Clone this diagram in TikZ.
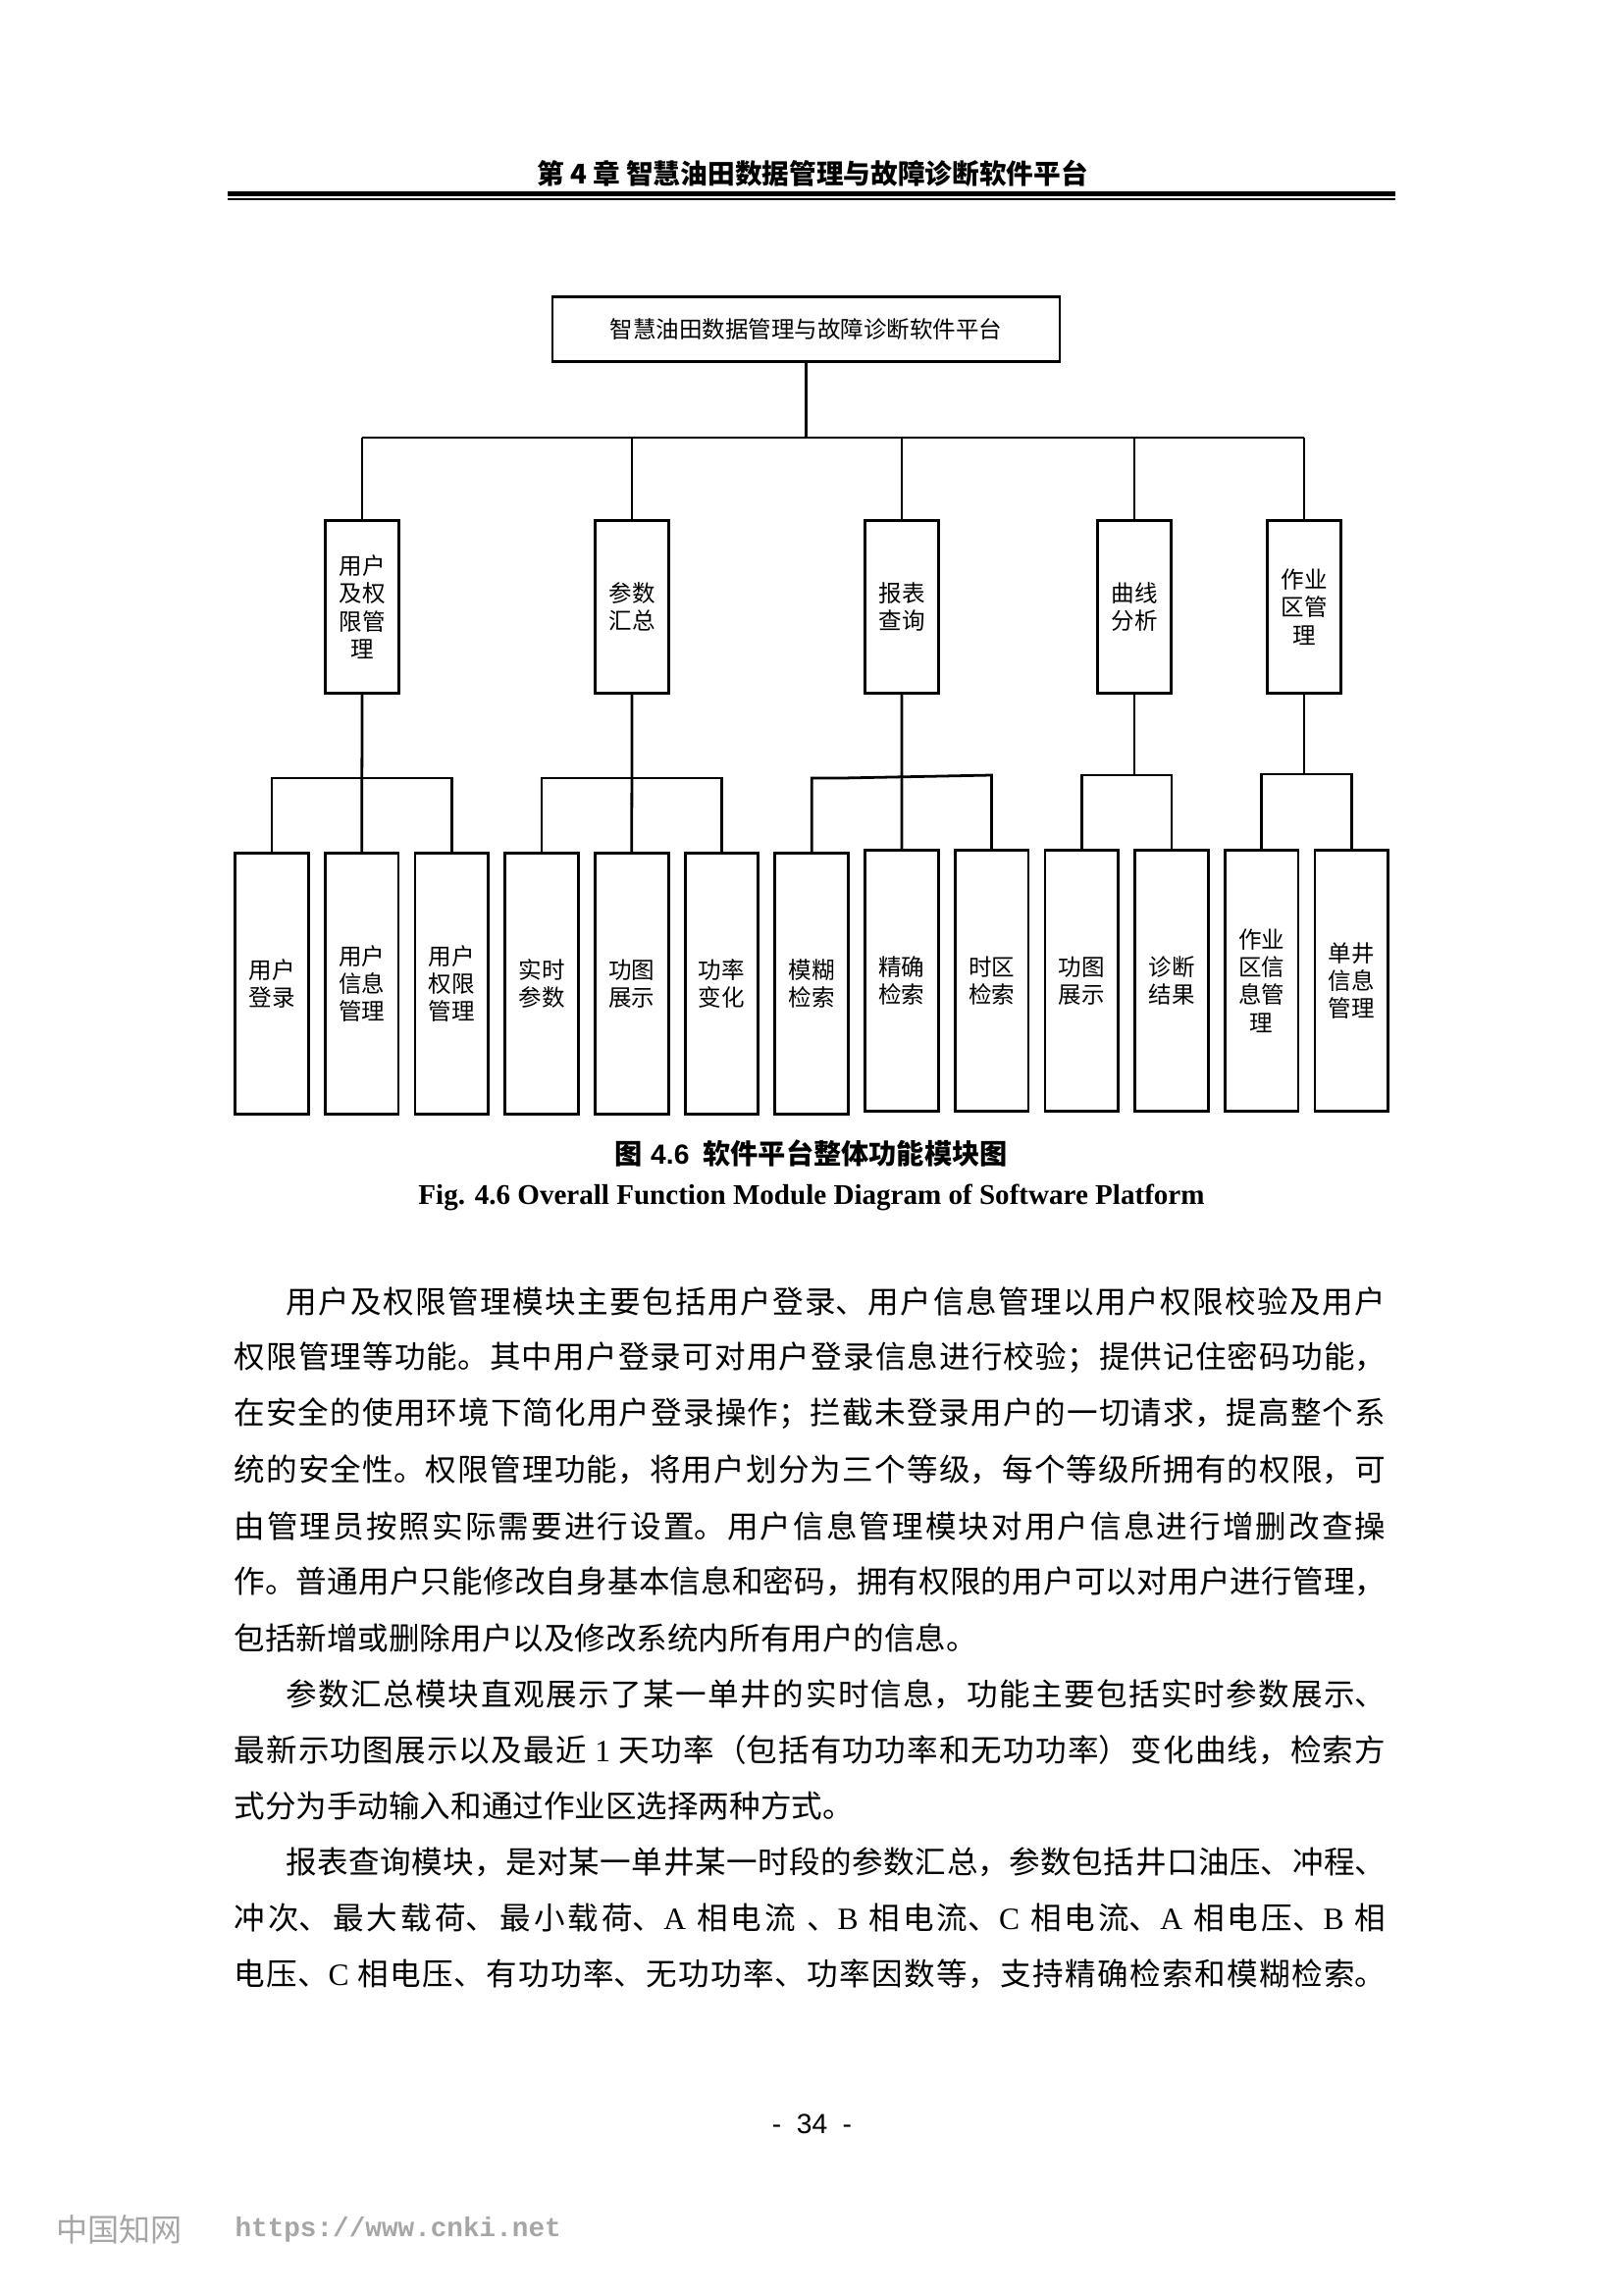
\documentclass[tikz,border=0pt]{standalone}
\usepackage{fontspec}
\setmainfont{Liberation Serif}
\setsansfont{Liberation Sans}
\setmonofont{Liberation Mono}
\newfontfamily\cjk{Noto Sans CJK SC}
\XeTeXlinebreaklocale "zh"
\XeTeXlinebreakskip=0pt plus 1pt
\newcommand\lat[1]{{\rmfamily #1}}
\newcommand\jl[1]{\parbox{424pt}{\cjk\fontsize{11.4}{14}\selectfont\parfillskip=0pt\relax\noindent #1\par}}
\newcommand\rl[1]{\parbox{424pt}{\cjk\fontsize{11.4}{14}\selectfont\parfillskip=0pt plus 1fil\relax\noindent #1\par}}
\newcommand\ind{\hspace*{19.1pt}}
\tikzset{
  box/.style={draw, line width=1pt, inner sep=0pt, align=center,
    font=\cjk\fontsize{8.5}{10.2}\selectfont},
  midbox/.style={box, minimum width=27pt, minimum height=63.7pt},
  leafbox/.style={box, minimum width=27pt, minimum height=96.1pt},
  conn/.style={line width=1pt},
  bodyline/.style={anchor=west, inner sep=0pt},
}
\begin{document}
\begin{tikzpicture}[x=0.126965mm, y=-0.126965mm]
\fill[white] (0,0) rectangle (1654,2339);
\useasboundingbox (0,0) rectangle (1654,2339);

% running header
\node[inner sep=0pt, font=\cjk\bfseries\fontsize{10}{12}\selectfont] (hdr) at (828,177)
  {第 4 章 智慧油田数据管理与故障诊断软件平台};
\fill (231.7,195) rectangle (1421.7,200);
\fill (231.7,201.7) rectangle (1421.7,204.3);

% diagram
\node[box, minimum width=186.8pt, minimum height=24.1pt] (top) at (821.5,335.5)
  {智慧油田数据管理与故障诊断软件平台};

\node[midbox] (m1) at (369,618.5) {用户\\及权\\限管\\理};
\node[midbox] (m2) at (644,618.5) {参数\\汇总};
\node[midbox] (m3) at (919,618.5) {报表\\查询};
\node[midbox] (m4) at (1156,618.5) {曲线\\分析};
\node[midbox] (m5) at (1329,618.5) {作业\\区管\\理};

\node[leafbox] (c1) at (277,1002.5) {用户\\登录};
\node[leafbox] (c2) at (368.7,1002.5) {用户\\信息\\管理};
\node[leafbox] (c3) at (460.4,1002.5) {用户\\权限\\管理};
\node[leafbox] (c4) at (552.1,1002.5) {实时\\参数};
\node[leafbox] (c5) at (643.8,1002.5) {功图\\展示};
\node[leafbox] (c6) at (735.5,1002.5) {功率\\变化};
\node[leafbox] (c7) at (827.2,1002.5) {模糊\\检索};
\node[leafbox] (c8) at (918.9,999.5) {精确\\检索};
\node[leafbox] (c9) at (1010.6,999.5) {时区\\检索};
\node[leafbox] (c10) at (1102.3,999.5) {功图\\展示};
\node[leafbox] (c11) at (1194,999.5) {诊断\\结果};
\node[leafbox] (c12) at (1285.7,999.5) {作业\\区信\\息管\\理};
\node[leafbox] (c13) at (1377.4,999.5) {单井\\信息\\管理};

% connectors
\coordinate (busL) at (369,446);
\coordinate (busR) at (1329,446);
\draw[conn] (busL) -- (busR);
\draw[conn] (top.south) -- (top.south |- busL);
\foreach \m in {m1,m2,m3,m4,m5} \draw[conn] (\m.north) -- (\m.north |- busL);

\coordinate (g1) at (0,793);
\coordinate (g3) at (0,790);
\coordinate (g5) at (0,789);
\draw[conn] (m1.south) -- (c2.north);
\draw[conn] (c1.north) -- (c1.north |- g1) -- (c3.north |- g1) -- (c3.north);
\draw[conn] (m2.south) -- (c5.north);
\draw[conn] (c4.north) -- (c4.north |- g1) -- (c6.north |- g1) -- (c6.north);
\draw[conn] (m3.south) -- (c8.north);
\draw[conn] (c7.north) -- (c7.north |- g1) -- (858,793) -- (c9.north |- g3) -- (c9.north);
\draw[conn] (m4.south) -- (m4.south |- g3);
\draw[conn] (c10.north) -- (c10.north |- g3) -- (c11.north |- g3) -- (c11.north);
\draw[conn] (m5.south) -- (m5.south |- g5);
\draw[conn] (c12.north) -- (c12.north |- g5) -- (c13.north |- g5) -- (c13.north);

% captions
\node[font=\cjk\bfseries\fontsize{10.2}{12}\selectfont] (cap) at (826.5,1175)
  {图\hspace{3.2pt}{\sffamily 4.6}\hspace{5pt}软件平台整体功能模块图};
\node[font=\rmfamily\bfseries\fontsize{10.5}{12}\selectfont] (ecap) at (827,1220.7)
  {Fig. 4.6 Overall Function Module Diagram of Software Platform};

% body text
\node[bodyline] (l0) at (238,1326.7) {\jl{\ind 用户及权限管理模块主要包括用户登录、用户信息管理以用户权限校验及用户}};
\node[bodyline] (l1) at (238,1383.8) {\jl{权限管理等功能。其中用户登录可对用户登录信息进行校验；提供记住密码功能，}};
\node[bodyline] (l2) at (238,1440.9) {\jl{在安全的使用环境下简化用户登录操作；拦截未登录用户的一切请求，提高整个系}};
\node[bodyline] (l3) at (238,1497.9) {\jl{统的安全性。权限管理功能，将用户划分为三个等级，每个等级所拥有的权限，可}};
\node[bodyline] (l4) at (238,1555.0) {\jl{由管理员按照实际需要进行设置。用户信息管理模块对用户信息进行增删改查操}};
\node[bodyline] (l5) at (238,1612.1) {\jl{作。普通用户只能修改自身基本信息和密码，拥有权限的用户可以对用户进行管理，}};
\node[bodyline] (l6) at (238,1669.2) {\rl{包括新增或删除用户以及修改系统内所有用户的信息。}};
\node[bodyline] (l7) at (238,1726.3) {\jl{\ind 参数汇总模块直观展示了某一单井的实时信息，功能主要包括实时参数展示、}};
\node[bodyline] (l8) at (238,1783.3) {\jl{最新示功图展示以及最近 \lat{1} 天功率（包括有功功率和无功功率）变化曲线，检索方}};
\node[bodyline] (l9) at (238,1840.4) {\rl{式分为手动输入和通过作业区选择两种方式。}};
\node[bodyline] (l10) at (238,1897.5) {\jl{\ind 报表查询模块，是对某一单井某一时段的参数汇总，参数包括井口油压、冲程、}};
\node[bodyline] (l11) at (238,1954.6) {\jl{冲次、最大载荷、最小载荷、\lat{A} 相电流 、\lat{B} 相电流、\lat{C} 相电流、\lat{A} 相电压、\lat{B} 相}};
\node[bodyline] (l12) at (238,2011.7) {\jl{电压、\lat{C} 相电压、有功功率、无功功率、功率因数等，支持精确检索和模糊检索。}};

% page number
\node[font=\sffamily\fontsize{10.2}{12}\selectfont] (pg) at (827.5,2165) {-\hspace{5.6pt}34\hspace{5.6pt}-};

% watermark
\node[anchor=west, inner sep=0pt, text=black!35, font=\cjk\fontsize{11.6}{14}\selectfont] (wm1) at (57,2272) {中国知网};
\node[anchor=west, inner sep=0pt, text=black!35, font=\ttfamily\bfseries\fontsize{10}{12}\selectfont] (wm2) at (239,2272) {https://www.cnki.net};
\end{tikzpicture}
\end{document}
